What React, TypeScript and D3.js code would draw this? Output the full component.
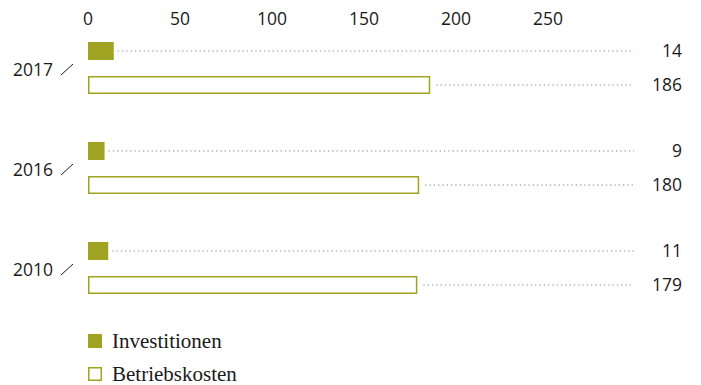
import React from "react";
import * as d3 from "d3";

const years = ["2017", "2016", "2010"];
const investitionen = [14, 9, 11];
const betriebskosten = [186, 180, 179];
const ticks = [0, 50, 100, 150, 200, 250];
const legendLabels = ["Investitionen", "Betriebskosten"];

const OLIVE = "#a0a321";
const TEXT = "#1a1a1a";
const DOT = "#b0b0b0";
const SANS = "'Open Sans', 'Noto Sans', sans-serif";
const SERIF = "'Liberation Serif', 'DejaVu Serif', serif";

export default function App() {
  const W = 701, H = 385;
  const x = d3.scaleLinear().domain([0, 250]).range([88, 548]);
  const y = d3.scaleBand().domain(years).range([26, 326]).paddingInner(0).paddingOuter(0);
  const barH = 18;
  const dotEnd = 634;
  const labelX = 682;
  const fs = 17.5;

  return (
    <svg width={W} height={H} style={{ position: "absolute", left: 0, top: 0 }}>
      <rect width={W} height={H} fill="#fff" />
      {ticks.map((t) => (
        <text key={t} x={x(t)} y={25} textAnchor="middle" fontFamily={SANS} fontSize={fs} fill={TEXT}>
          {t}
        </text>
      ))}
      {years.map((yr, i) => {
        const g = y(yr)!;
        const y1 = g + 16;
        const y2 = g + 50;
        const invEnd = x(investitionen[i]);
        const btEnd = x(betriebskosten[i]);
        return (
          <g key={yr}>
            <text x={13} y={g + 50} fontFamily={SANS} fontSize={fs} fill={TEXT}>{yr}</text>
            <line x1={61} y1={g + 49} x2={73} y2={g + 38} stroke={TEXT} strokeWidth={1} />
            <rect x={x(0)} y={y1} width={invEnd - x(0)} height={barH} fill={OLIVE} />
            <line x1={invEnd + 4} x2={dotEnd} y1={y1 + barH / 2} y2={y1 + barH / 2}
              stroke={DOT} strokeWidth={1.3} strokeDasharray="1.3,3" />
            <text x={labelX} y={y1 + barH / 2 + 6} textAnchor="end" fontFamily={SANS} fontSize={fs} fill={TEXT}>
              {investitionen[i]}
            </text>
            <rect x={x(0) + 0.75} y={y2 + 0.75} width={btEnd - x(0) - 1.5} height={barH - 1.5}
              fill="#fff" stroke={OLIVE} strokeWidth={1.5} />
            <line x1={btEnd + 6} x2={dotEnd} y1={y2 + barH / 2} y2={y2 + barH / 2}
              stroke={DOT} strokeWidth={1.3} strokeDasharray="1.3,3" />
            <text x={labelX} y={y2 + barH / 2 + 6} textAnchor="end" fontFamily={SANS} fontSize={fs} fill={TEXT}>
              {betriebskosten[i]}
            </text>
          </g>
        );
      })}
      {legendLabels.map((l, i) => {
        const ly = 334 + i * 33;
        return (
          <g key={l}>
            {i === 0 ? (
              <rect x={88} y={ly} width={14} height={14} fill={OLIVE} />
            ) : (
              <rect x={88.75} y={ly + 0.75} width={12.5} height={12.5} fill="#fff" stroke={OLIVE} strokeWidth={1.5} />
            )}
            <text x={112} y={ly + 13.5} fontFamily={SERIF} fontSize={21} fill={TEXT}>{l}</text>
          </g>
        );
      })}
    </svg>
  );
}
